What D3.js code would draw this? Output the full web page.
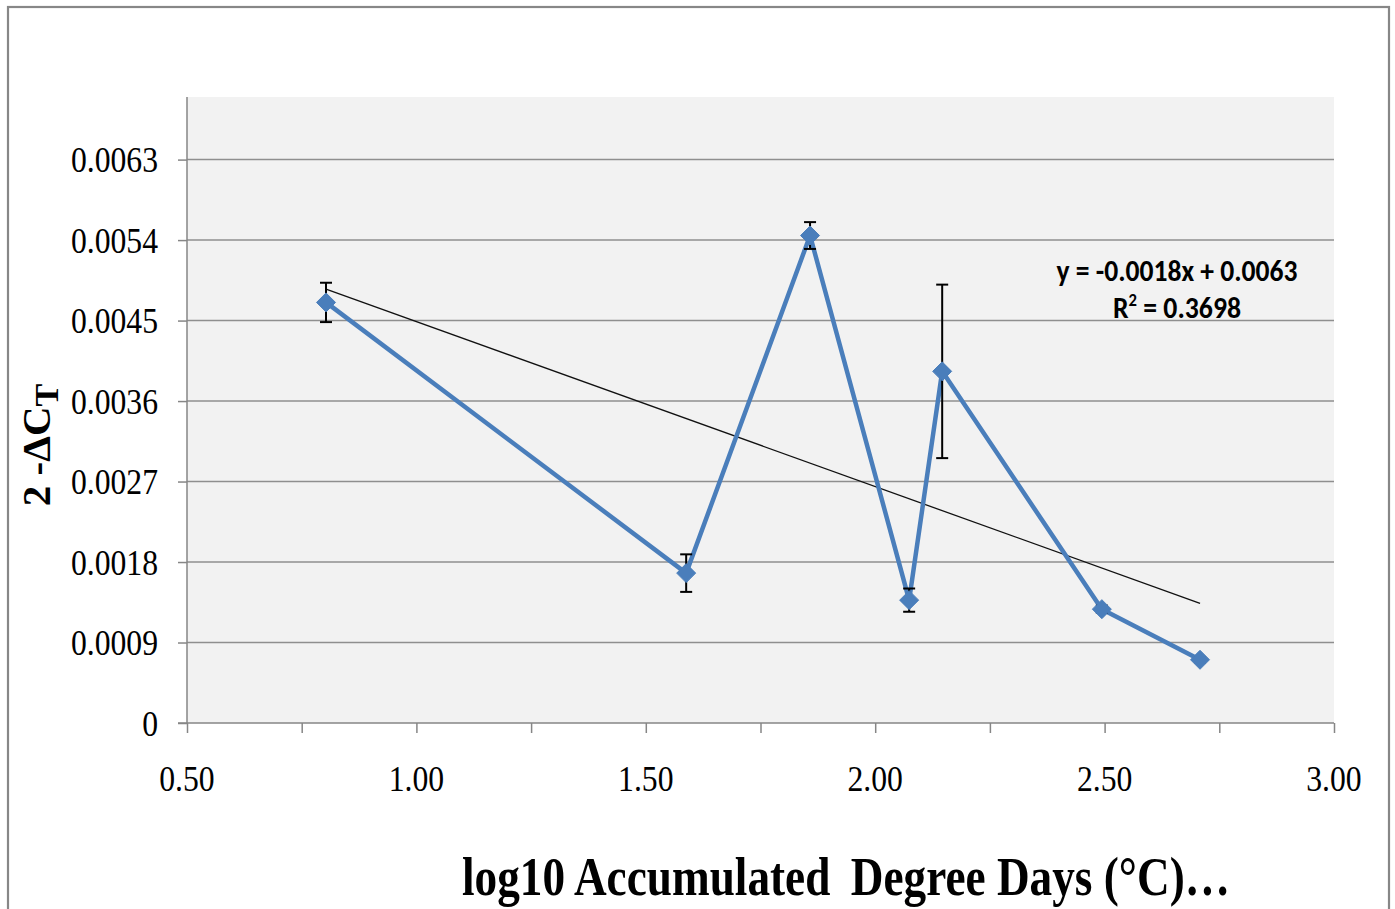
<!DOCTYPE html>
<html>
<head>
<meta charset="utf-8">
<script src="https://cdn.jsdelivr.net/npm/d3@7"></script>
<style>
  html, body { margin: 0; padding: 0; background: #fff; }
  svg { display: block; }
  .pre { white-space: pre; }
</style>
</head>
<body>
<svg id="chart" width="1395" height="909"></svg>
<script>
// Relative expression (2^-ΔCt) against log10 accumulated degree days
const logADD   = [0.803, 1.588, 1.858, 2.074, 2.146, 2.494, 2.708];
const expr     = [0.004703, 0.001676, 0.005451, 0.001374, 0.003932, 0.001273, 0.000707];
const exprErr  = [0.00022, 0.00021, 0.00015, 0.00013, 0.00097, 0.00004, 0.00003];
const yTicks   = [0, 0.0009, 0.0018, 0.0027, 0.0036, 0.0045, 0.0054, 0.0063];
const xTicks   = [0.5, 1.0, 1.5, 2.0, 2.5, 3.0];
const xMinorTicks = [0.5, 0.75, 1.0, 1.25, 1.5, 1.75, 2.0, 2.25, 2.5, 2.75, 3.0];
const xTitle   = "log10 Accumulated \u2009Degree Days (°C)…";

const svg = d3.select("#chart");
const plot = { left: 187, right: 1334, top: 97, bottom: 723 };

const x = d3.scaleLinear().domain([0.5, 3.0]).range([plot.left, plot.right]);
const y = d3.scaleLinear().domain([0, 0.007]).range([plot.bottom, plot.top]);

const serif = "'Liberation Serif', 'Times New Roman', serif";
const squeeze = function () {
  const w = this.getComputedTextLength();
  d3.select(this).attr("textLength", w * 0.88).attr("lengthAdjust", "spacingAndGlyphs");
};

// outer chart frame
svg.append("rect")
  .attr("x", 8).attr("y", 7).attr("width", 1381).attr("height", 920)
  .attr("fill", "#fff").attr("stroke", "#878787").attr("stroke-width", 2.2);

// plot area
svg.append("rect")
  .attr("x", plot.left).attr("y", plot.top)
  .attr("width", plot.right - plot.left).attr("height", plot.bottom - plot.top)
  .attr("fill", "#f2f2f2");

// horizontal gridlines
svg.append("g").selectAll("line")
  .data(yTicks.filter(d => d > 0))
  .join("line")
  .attr("x1", plot.left).attr("x2", plot.right)
  .attr("y1", d => y(d)).attr("y2", d => y(d))
  .attr("stroke", "#8f8f8f").attr("stroke-width", 1.5);

// y axis
const yAxis = svg.append("g")
  .attr("transform", `translate(${plot.left},0)`)
  .call(d3.axisLeft(y).tickValues(yTicks).tickSize(9).tickPadding(20)
        .tickFormat(d => d === 0 ? "0" : d3.format(".4f")(d)));
yAxis.select(".domain").attr("stroke", "#868686").attr("stroke-width", 1.5)
  .attr("d", `M0,${plot.top}V${plot.bottom}`);
yAxis.selectAll(".tick line").attr("stroke", "#868686").attr("stroke-width", 1.5);
yAxis.selectAll(".tick text")
  .attr("font-family", serif)
  .attr("font-size", 36).attr("fill", "#000").attr("dy", "0.34em")
  .each(squeeze);

// x axis: tick marks every 0.25, labels every 0.5
const xAxis = svg.append("g")
  .attr("transform", `translate(0,${plot.bottom})`)
  .call(d3.axisBottom(x).tickValues(xMinorTicks).tickSize(10).tickFormat(""));
xAxis.select(".domain").attr("stroke", "#868686").attr("stroke-width", 1.5)
  .attr("d", `M${plot.left - 9},0H${plot.right}`);
xAxis.selectAll(".tick line").attr("stroke", "#868686").attr("stroke-width", 1.5);

svg.append("g").selectAll("text")
  .data(xTicks)
  .join("text")
  .attr("x", d => x(d)).attr("y", 791)
  .attr("text-anchor", "middle")
  .attr("font-family", serif)
  .attr("font-size", 36).attr("fill", "#000")
  .text(d => d3.format(".2f")(d))
  .each(squeeze);

// least-squares trendline
const n = logADD.length;
const mx = d3.mean(logADD), my = d3.mean(expr);
let sxy = 0, sxx = 0, syy = 0;
for (let i = 0; i < n; i++) {
  sxy += (logADD[i] - mx) * (expr[i] - my);
  sxx += (logADD[i] - mx) ** 2;
  syy += (expr[i] - my) ** 2;
}
const slope = sxy / sxx;
const intercept = my - slope * mx;
const r2 = (sxy * sxy) / (sxx * syy);
const x0 = d3.min(logADD), x1 = d3.max(logADD);

svg.append("line")
  .attr("x1", x(x0)).attr("y1", y(slope * x0 + intercept))
  .attr("x2", x(x1)).attr("y2", y(slope * x1 + intercept))
  .attr("stroke", "#111").attr("stroke-width", 1.3);

// data series
const pts = logADD.map((v, i) => ({ x: v, y: expr[i], e: exprErr[i] }));

svg.append("path")
  .datum(pts)
  .attr("fill", "none").attr("stroke", "#4a7ebb").attr("stroke-width", 4.5)
  .attr("stroke-linejoin", "round")
  .attr("d", d3.line().x(d => x(d.x)).y(d => y(d.y)));

// error bars
const eb = svg.append("g").attr("stroke", "#000").attr("stroke-width", 2);
eb.selectAll("line.v").data(pts).join("line").attr("class", "v")
  .attr("x1", d => x(d.x)).attr("x2", d => x(d.x))
  .attr("y1", d => y(d.y - d.e)).attr("y2", d => y(d.y + d.e));
eb.selectAll("line.t").data(pts).join("line").attr("class", "t")
  .attr("x1", d => x(d.x) - 6).attr("x2", d => x(d.x) + 6)
  .attr("y1", d => y(d.y + d.e)).attr("y2", d => y(d.y + d.e));
eb.selectAll("line.b").data(pts).join("line").attr("class", "b")
  .attr("x1", d => x(d.x) - 6).attr("x2", d => x(d.x) + 6)
  .attr("y1", d => y(d.y - d.e)).attr("y2", d => y(d.y - d.e));

// diamond markers
svg.append("g").selectAll("path")
  .data(pts)
  .join("path")
  .attr("transform", d => `translate(${x(d.x)},${y(d.y)})`)
  .attr("d", "M0,-9.5L9.5,0L0,9.5L-9.5,0Z")
  .attr("fill", "#4a7ebb").attr("stroke", "#4a7ebb").attr("stroke-width", 1);

// trendline equation
const fmt4 = v => d3.format(".4f")(v).replace("\u2212", "-");
const eqFont = "Carlito, 'Open Sans', 'Noto Sans', sans-serif";
const eq = svg.append("g").attr("font-family", eqFont).attr("fill", "#000")
  .attr("font-weight", 600).attr("text-anchor", "middle");
eq.append("text")
  .attr("x", 1177).attr("y", 281).attr("font-size", 30)
  .attr("textLength", 241).attr("lengthAdjust", "spacingAndGlyphs")
  .text(`y = ${fmt4(slope)}x + ${fmt4(intercept)}`);
const r2t = eq.append("text")
  .attr("x", 1177).attr("y", 318).attr("font-size", 30)
  .attr("textLength", 128).attr("lengthAdjust", "spacingAndGlyphs");
r2t.append("tspan").text("R");
r2t.append("tspan").attr("font-size", 18).attr("dy", -12).text("2");
r2t.append("tspan").attr("dy", 12).text(` = ${fmt4(r2)}`);

// y axis title: 2^-ΔC_T
const yt = svg.append("text")
  .attr("class", "pre")
  .attr("transform", "translate(50,445) rotate(-90)")
  .attr("text-anchor", "middle")
  .attr("font-family", serif)
  .attr("font-weight", "bold").attr("font-size", 41).attr("fill", "#000");
yt.append("tspan").text("2 -ΔC");
yt.append("tspan").attr("dy", 8).attr("font-size", 34).text("T");

// x axis title
svg.append("text")
  .attr("class", "pre")
  .attr("x", 846).attr("y", 895)
  .attr("text-anchor", "middle")
  .attr("font-family", serif)
  .attr("font-weight", "bold").attr("font-size", 54).attr("fill", "#000")
  .attr("textLength", 768).attr("lengthAdjust", "spacingAndGlyphs")
  .text(xTitle);
</script>
</body>
</html>
